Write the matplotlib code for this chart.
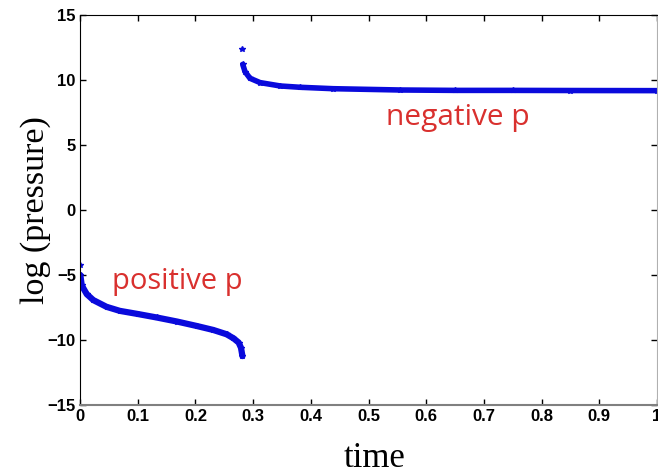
import matplotlib.pyplot as plt

# positive-pressure branch
pos_time = [0.0005, 0.003, 0.0116, 0.023, 0.046, 0.069, 0.100, 0.133, 0.168,
            0.202, 0.231, 0.254, 0.266, 0.275, 0.279, 0.2815]
pos_logp = [-5.0, -5.8, -6.47, -6.93, -7.45, -7.76, -8.0, -8.27, -8.58,
            -8.92, -9.23, -9.56, -9.87, -10.2, -10.6, -11.24]

# negative-pressure branch
neg_time = [0.282, 0.286, 0.2946, 0.312, 0.347, 0.381, 0.439, 0.555,
            0.65, 0.75, 0.85, 1.0]
neg_logp = [11.2, 10.64, 10.13, 9.8, 9.54, 9.44, 9.33, 9.23,
            9.2, 9.2, 9.19, 9.18]

# isolated first samples of each branch
lone_time = [0.0, 0.2815]
lone_logp = [-4.23, 12.36]

blue = "#0a0adc"

fig = plt.figure(figsize=(6.58, 4.67), dpi=100)
ax = fig.add_axes([0.1216, 0.1328, 0.8769, 0.8351])

ax.plot(pos_time, pos_logp, color=blue, lw=4.5, marker="*", ms=4, solid_capstyle="round")
ax.plot(neg_time, neg_logp, color=blue, lw=4, marker="*", ms=4, solid_capstyle="round")
ax.plot(lone_time, lone_logp, ls="none", color=blue, marker="*", ms=4)

ax.set_xlim(0, 1)
ax.set_ylim(-15, 15)
ax.set_xticks([0, 0.1, 0.2, 0.3, 0.4, 0.5, 0.6, 0.7, 0.8, 0.9, 1])
ax.set_xticklabels(["0", "0.1", "0.2", "0.3", "0.4", "0.5", "0.6", "0.7", "0.8", "0.9", "1"])
ax.set_yticks([-15, -10, -5, 0, 5, 10, 15])

ax.tick_params(direction="in", length=4, width=1, top=True, right=True,
               labelsize=12, pad=3)
for lab in ax.get_xticklabels() + ax.get_yticklabels():
    lab.set_fontweight("bold")
    lab.set_family("Liberation Sans")

ax.spines["left"].set_color("black")
ax.spines["top"].set_color("black")
ax.spines["bottom"].set_color("#808080")
ax.spines["right"].set_color("#b0b0b0")
ax.spines["bottom"].set_linewidth(1.5)

ax.set_xlabel("time", family="Liberation Serif", fontsize=25)
ax.set_ylabel("log (pressure)", family="Liberation Serif", fontsize=24.5)
ax.xaxis.set_label_coords(0.51, -0.095)
ax.yaxis.set_label_coords(-0.05, 0.5)

ax.text(0.168, -5.5, "positive p", color="#d9302e", family="Open Sans",
        fontsize=21, ha="center", va="center")
ax.text(0.654, 7.1, "negative p", color="#d9302e", family="Open Sans",
        fontsize=21.5, ha="center", va="center")

fig.savefig("out.png", dpi=100)
